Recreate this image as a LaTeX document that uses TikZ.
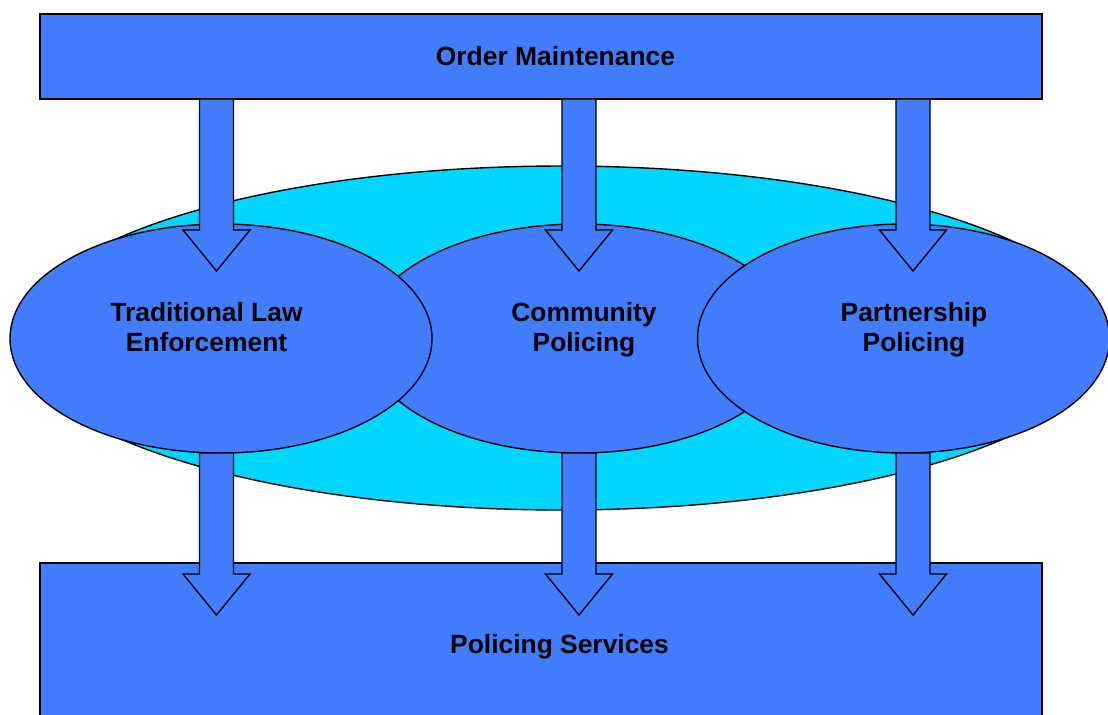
\documentclass[tikz,border=0pt]{standalone}
\usepackage{fontspec}
\setmainfont{Liberation Sans}
\usetikzlibrary{shapes.geometric}
\usetikzlibrary{calc}

\definecolor{boxblue}{RGB}{66,125,255}
\definecolor{ringcyan}{RGB}{0,214,255}

% block arrow from a start point down to a tip
\newcommand{\blockarrow}[2]{%
	\draw[arrowbody] ($(#1)+(-17,0)$) -- ($(#2)+(-17,-41)$) -- ($(#2)+(-33.5,-41)$) -- (#2)
		-- ($(#2)+(33.5,-41)$) -- ($(#2)+(17,-41)$) -- ($(#1)+(17,0)$) -- cycle;}

\begin{document}
\begin{tikzpicture}[x=0.5pt,y=-0.5pt,
	every node/.style={font=\fontsize{13.2}{15}\selectfont\bfseries},
	box/.style={rectangle,draw=black,line width=0.7pt,fill=boxblue,inner sep=0pt,outer sep=0pt},
	oval/.style={ellipse,draw=black,line width=0.7pt,fill=boxblue,inner sep=0pt,outer sep=0pt},
	arrowbody/.style={draw=black,line width=0.7pt,fill=boxblue,line join=miter},
	lbl/.style={align=center,anchor=base,inner sep=0pt}]
	
	\useasboundingbox (0,0) rectangle (1108,714);
	
	\node[box,minimum width=501pt,minimum height=42.5pt] (om) at (541,56.5) {};
	\node[box,minimum width=501pt,minimum height=88.5pt] (ps) at (541,651.5) {};
	
	\node[oval,fill=ringcyan,minimum width=545pt,minimum height=172pt] (ring) at (562,338) {};
	\node[oval,minimum width=215pt,minimum height=114.5pt] (cp) at (579,338.5) {};
	\node[oval,minimum width=211pt,minimum height=114.5pt] (tle) at (221,338.5) {};
	\node[oval,minimum width=206pt,minimum height=114.5pt] (pp) at (903.5,338.5) {};
	
	\node[lbl] (omtext) at (555.5,65) {Order Maintenance};
	\node[lbl] (tletext) at (206.5,351) {Traditional Law\\Enforcement};
	\node[lbl] (cptext) at (584,351) {Community\\Policing};
	\node[lbl] (pptext) at (914,351) {Partnership\\Policing};
	\node[lbl] (pstext) at (559.5,653) {Policing Services};
	
	\coordinate (t1) at (216.5,271);
	\coordinate (t2) at (579,271);
	\coordinate (t3) at (913,271);
	\coordinate (b1) at (216.5,615);
	\coordinate (b2) at (579,615);
	\coordinate (b3) at (913,615);
	
	\foreach \i in {1,2,3}
	\coordinate (s\i) at (om.south -| t\i);
	\coordinate (l1) at (tle.south -| b1);
	\coordinate (l2) at (cp.south -| b2);
	\coordinate (l3) at (pp.south -| b3);
	
	\foreach \i in {1,2,3}
	{\blockarrow{s\i}{t\i}
	\blockarrow{l\i}{b\i}}
\end{tikzpicture}
\end{document}
